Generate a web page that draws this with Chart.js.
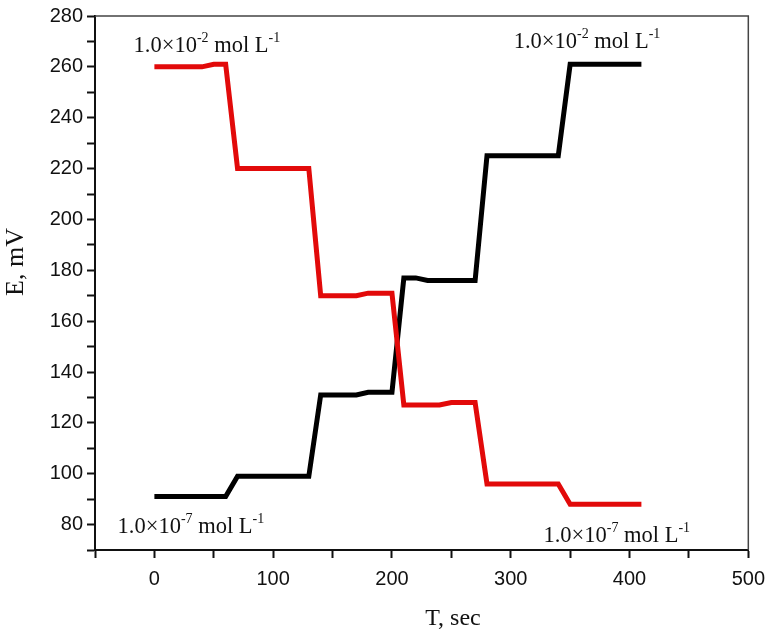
<!DOCTYPE html>
<html>
<head>
<meta charset="utf-8">
<title>E vs T</title>
<script src="https://cdn.jsdelivr.net/npm/chart.js@4.4.1/dist/chart.umd.min.js"></script>
<style>
    html, body { margin: 0; padding: 0; background: #fff; }
    #wrap { width: 774px; height: 635px; position: relative; }
</style>
</head>
<body>
<div id="wrap"><canvas id="potentialChart"></canvas></div>
<script>
// time (sec) and potential (mV)
const redTime = [0, 40, 50, 60, 70, 130, 140, 170, 180, 200, 210, 240, 250, 270, 280, 340, 350, 410];
const redE = [260, 260, 261, 261, 220, 220, 170, 170, 171, 171, 127, 127, 128, 128, 96, 96, 88, 88];

const blackTime = [0, 60, 70, 130, 140, 170, 180, 200, 210, 220, 230, 270, 280, 340, 350, 410];
const blackE = [91, 91, 99, 99, 131, 131, 132, 132, 177, 177, 176, 176, 225, 225, 261, 261];

const xTickValues = [-50, 0, 50, 100, 150, 200, 250, 300, 350, 400, 450, 500];
const yTickValues = [70, 80, 90, 100, 110, 120, 130, 140, 150, 160, 170, 180, 190, 200, 210, 220, 230, 240, 250, 260, 270, 280];

// concentration labels: anchor (x, y) in data units, exponent
const noteX = [-17.5, 302.5, -31, 327.5];
const noteY = [265.9, 267.5, 76.5, 73];
const noteExp = ['-2', '-2', '-7', '-7'];

const serif = '"Liberation Serif", "Times New Roman", serif';
const sans = '"Liberation Sans", Arial, sans-serif';

const toPoints = (xs, ys) => xs.map((x, i) => ({ x: x, y: ys[i] }));

const framePlugin = {
    id: 'frame',
    afterDraw(chart) {
        const ctx = chart.ctx;
        const a = chart.chartArea;
        const xs = chart.scales.x;
        const ys = chart.scales.y;

        // top and right frame lines
        ctx.save();
        ctx.strokeStyle = '#444';
        ctx.lineWidth = 1.5;
        ctx.beginPath();
        ctx.moveTo(a.left, a.top);
        ctx.lineTo(a.right, a.top);
        ctx.lineTo(a.right, a.bottom);
        ctx.stroke();
        ctx.restore();

        // concentration notes with superscripts
        ctx.save();
        ctx.fillStyle = '#111';
        ctx.textBaseline = 'alphabetic';
        ctx.textAlign = 'left';
        noteX.forEach((nx, i) => {
            let px = xs.getPixelForValue(nx);
            const py = ys.getPixelForValue(noteY[i]);
            const parts = [
                ['1.0\u00d710', 22.5, 0],
                [noteExp[i], 14, 10],
                [' mol L', 22.5, 0],
                ['-1', 14, 10]
            ];
            parts.forEach(p => {
                ctx.font = p[1] + 'px ' + serif;
                ctx.fillText(p[0], px, py - p[2]);
                px += ctx.measureText(p[0]).width;
            });
        });

        // axis titles
        ctx.textAlign = 'center';
        ctx.font = '24px ' + serif;
        ctx.fillText('T, sec', 453, 625);
        ctx.font = '26px ' + serif;
        ctx.translate(23, 262);
        ctx.rotate(-Math.PI / 2);
        ctx.fillText('E, mV', 0, 0);
        ctx.restore();
    }
};

const axisGrid = {
    drawOnChartArea: false,
    drawTicks: true,
    tickLength: 8,
    tickColor: '#111',
    tickWidth: 2
};

const ctx = document.getElementById('potentialChart').getContext('2d');
new Chart(ctx, {
    type: 'line',
    data: {
        datasets: [{
            label: 'red',
            data: toPoints(redTime, redE),
            borderColor: 'rgb(226, 10, 10)',
            borderWidth: 5,
            pointRadius: 0,
            tension: 0,
            fill: false
        }, {
            label: 'black',
            data: toPoints(blackTime, blackE),
            borderColor: '#000',
            borderWidth: 5,
            pointRadius: 0,
            tension: 0,
            fill: false
        }]
    },
    options: {
        responsive: true,
        maintainAspectRatio: false,
        animation: false,
        layout: {
            padding: { top: 13, right: 20, left: 0, bottom: 0 }
        },
        plugins: {
            legend: { display: false },
            tooltip: { enabled: false }
        },
        scales: {
            x: {
                type: 'linear',
                min: -50,
                max: 500,
                afterBuildTicks: scale => {
                    scale.ticks = xTickValues.map(v => ({ value: v }));
                },
                afterFit: scale => {
                    scale.height = 85;
                },
                grid: axisGrid,
                border: { display: true, color: '#111', width: 2 },
                ticks: {
                    autoSkip: false,
                    maxRotation: 0,
                    padding: 9,
                    color: '#111',
                    font: { family: sans, size: 20 },
                    callback: v => (v >= 0 && v % 100 === 0) ? String(v) : ''
                }
            },
            y: {
                type: 'linear',
                min: 70,
                max: 280,
                afterBuildTicks: scale => {
                    scale.ticks = yTickValues.map(v => ({ value: v }));
                },
                afterFit: scale => {
                    scale.width = 95;
                },
                grid: axisGrid,
                border: { display: true, color: '#111', width: 2 },
                ticks: {
                    autoSkip: false,
                    padding: 4,
                    color: '#111',
                    font: { family: sans, size: 20 },
                    callback: v => (v % 20 === 0) ? String(v) : ''
                }
            }
        }
    },
    plugins: [framePlugin]
});
</script>
</body>
</html>
